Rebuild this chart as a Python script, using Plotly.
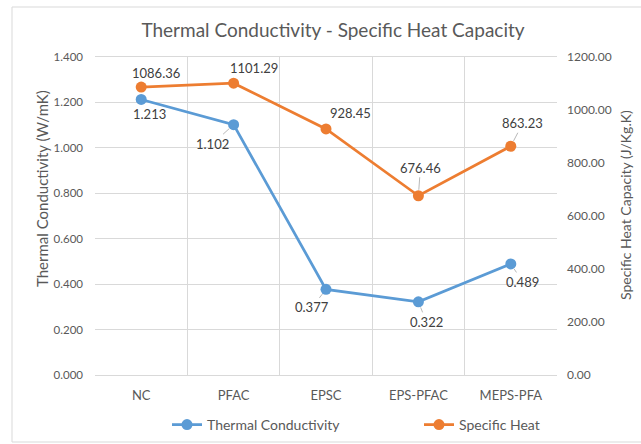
import plotly.graph_objects as go

categories = ["NC", "PFAC", "EPSC", "EPS-PFAC", "MEPS-PFA"]
thermal_conductivity = [1.213, 1.102, 0.377, 0.322, 0.489]
specific_heat = [1086.36, 1101.29, 928.45, 676.46, 863.23]

left_ticks = [0.0, 0.2, 0.4, 0.6, 0.8, 1.0, 1.2, 1.4]
right_ticks = [0, 200, 400, 600, 800, 1000, 1200]

BLUE = "#5B9BD5"
ORANGE = "#ED7D31"
GRID = "#D9D9D9"
TXT = "#595959"
LBL = "#404040"
FONT = "Lato"

# plot-area geometry in pixels
L, R, T, B = 95, 557, 57, 375
PW, PH = R - L, B - T


def px_x(p):
    return (p - L) / PW


def px_y(p):
    return (B - p) / PH


# label offsets (pixels, dx, dy with dy positive downwards) and whether a leader line shows
orange_offsets = [(15, -14, False), (20, -15, False), (24, -16, False), (2, -28, True), (12, -23, True)]
blue_offsets = [(8, 15, False), (-21, 19, True), (-14, 18, True), (8, 20, True), (12, 18, True)]

fig = go.Figure()
fig.add_trace(go.Scatter(
    x=categories, y=thermal_conductivity, name="Thermal Conductivity",
    mode="lines+markers", line=dict(color=BLUE, width=2.75),
    marker=dict(color=BLUE, size=11), yaxis="y", legend="legend"))
fig.add_trace(go.Scatter(
    x=categories, y=specific_heat, name="Specific Heat",
    mode="lines+markers", line=dict(color=ORANGE, width=2.75),
    marker=dict(color=ORANGE, size=11), yaxis="y2", legend="legend2"))

annotations = []
for cat, v, (dx, dy, lead) in zip(categories, thermal_conductivity, blue_offsets):
    annotations.append(dict(
        x=cat, y=v, xref="x", yref="y", text=f"{v:.3f}", showarrow=True,
        ax=dx, ay=dy, arrowhead=0, arrowwidth=0.8, standoff=6,
        arrowcolor="#A6A6A6" if lead else "rgba(0,0,0,0)",
        font=dict(family=FONT, size=13, color=LBL)))
for cat, v, (dx, dy, lead) in zip(categories, specific_heat, orange_offsets):
    annotations.append(dict(
        x=cat, y=v, xref="x", yref="y2", text=f"{v:.2f}", showarrow=True,
        ax=dx, ay=dy, arrowhead=0, arrowwidth=0.8, standoff=6,
        arrowcolor="#A6A6A6" if lead else "rgba(0,0,0,0)",
        font=dict(family=FONT, size=13, color=LBL)))

# axis titles
annotations.append(dict(text="Thermal Conductivity (W/mK)", xref="paper", yref="paper",
                        x=px_x(42), y=px_y(189), textangle=-90, showarrow=False,
                        xanchor="center", yanchor="middle",
                        font=dict(family=FONT, size=15, color=TXT)))
annotations.append(dict(text="Specific Heat Capacity (J/Kg.K)", xref="paper", yref="paper",
                        x=px_x(625), y=px_y(205), textangle=-90, showarrow=False,
                        xanchor="center", yanchor="middle",
                        font=dict(family=FONT, size=14, color=TXT)))

legend_common = dict(orientation="h", yanchor="middle", y=px_y(425), xanchor="left",
                     font=dict(family=FONT, size=14, color=TXT), bgcolor="rgba(0,0,0,0)")

fig.update_layout(
    width=641, height=444,
    margin=dict(l=L, r=641 - R, t=T, b=444 - B, autoexpand=False),
    paper_bgcolor="white", plot_bgcolor="white",
    font=dict(family=FONT, color=TXT),
    title=dict(text="Thermal Conductivity - Specific Heat Capacity",
               x=333 / 641, xanchor="center", y=1 - 30 / 444, yanchor="middle",
               font=dict(family=FONT, size=19, color=TXT)),
    xaxis=dict(type="category", tickson="boundaries", showgrid=True, gridcolor=GRID,
               gridwidth=1, ticks="", showline=True, linecolor=GRID, mirror=True,
               automargin=False, ticklabelstandoff=8,
               tickfont=dict(family=FONT, size=13, color=TXT), range=[-0.5, 4.5]),
    yaxis=dict(range=[0, 1.4], tickvals=left_ticks, tickformat=".3f", automargin=False,
               showgrid=True, gridcolor=GRID, zeroline=False, ticks="",
               ticklabelstandoff=11,
               tickfont=dict(family=FONT, size=11.5, color=TXT)),
    yaxis2=dict(range=[0, 1200], tickvals=right_ticks, tickformat=".2f", automargin=False,
                overlaying="y", side="right", showgrid=False, zeroline=False, ticks="",
                ticklabelstandoff=9,
                tickfont=dict(family=FONT, size=12, color=TXT)),
    showlegend=True,
    legend=dict(x=px_x(167), **legend_common),
    legend2=dict(x=px_x(419), **legend_common),
    annotations=annotations,
    shapes=[dict(type="rect", xref="paper", yref="paper",
                 x0=px_x(12), x1=px_x(660),
                 y0=px_y(442), y1=px_y(7),
                 line=dict(color=GRID, width=1), fillcolor="rgba(0,0,0,0)", layer="below")],
)

fig.write_html("out.html", config={"displayModeBar": False},
               post_script="document.body.style.margin='0px';")
